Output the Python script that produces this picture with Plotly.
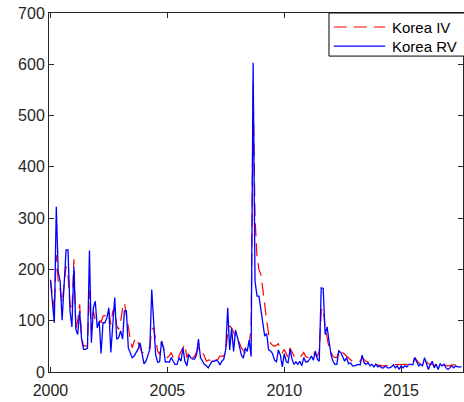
import pandas as pd
import plotly.graph_objects as go

# Monthly Korea volatility series, Jan 2000 - Aug 2017
korea_rv = [
    179, 135, 96, 322, 195, 176, 101, 170, 238, 238, 120, 88,
    205, 83, 73, 119, 64, 44, 44, 46, 237, 57, 125, 138,
    86, 99, 36, 96, 96, 106, 125, 38, 99, 145, 64, 67,
    80, 64, 119, 119, 47, 38, 28, 31, 38, 45, 57, 38,
    16, 21, 31, 44, 161, 83, 34, 19, 20, 60, 47, 19,
    20, 19, 28, 21, 15, 15, 28, 21, 47, 21, 12, 34,
    28, 25, 25, 34, 64, 28, 21, 15, 12, 8, 15, 21,
    21, 23, 21, 14, 21, 25, 44, 125, 43, 85, 40, 82,
    67, 49, 33, 27, 47, 40, 62, 30, 603, 177, 148, 148,
    120, 89, 70, 75, 43, 41, 36, 23, 20, 43, 33, 10,
    36, 20, 18, 44, 25, 15, 20, 15, 21, 12, 28, 20,
    20, 25, 31, 23, 41, 25, 21, 164, 163, 73, 88, 60,
    34, 21, 15, 15, 41, 38, 28, 21, 28, 16, 18, 12,
    12, 14, 15, 14, 33, 18, 15, 18, 12, 15, 10, 15,
    10, 12, 8, 8, 12, 8, 8, 10, 14, 8, 12, 5,
    12, 8, 12, 10, 15, 15, 14, 28, 21, 12, 15, 12,
    28, 18, 5, 15, 21, 8, 15, 5, 16, 12, 15, 8,
    5, 8, 12, 8, 12, 10, 10, 10,
]

korea_iv = [
    180, 150, 120, 228, 177, 160, 135, 170, 206, 190, 130, 119,
    220, 83, 100, 132, 67, 51, 51, 51, 158, 80, 119, 100,
    100, 103, 96, 109, 110, 112, 119, 93, 119, 125, 90, 83,
    98, 125, 135, 112, 83, 64, 47, 60, 67, 55, 47, 38,
    38, 42, 47, 47, 83, 86, 60, 41, 34, 60, 47, 34,
    28, 32, 38, 28, 23, 27, 31, 40, 47, 54, 28, 38,
    31, 28, 30, 38, 47, 47, 40, 31, 21, 23, 23, 28,
    25, 23, 25, 31, 31, 31, 41, 73, 90, 86, 77, 70,
    67, 55, 47, 42, 38, 45, 54, 86, 560, 300, 225, 200,
    190, 160, 127, 100, 75, 56, 52, 50, 52, 55, 45, 38,
    44, 35, 28, 47, 38, 31, 28, 28, 28, 33, 38, 30,
    28, 31, 35, 38, 33, 31, 40, 120, 125, 86, 67, 47,
    38, 31, 28, 28, 41, 42, 38, 34, 30, 28, 24, 21,
    21, 21, 21, 21, 28, 25, 21, 20, 18, 16, 15, 15,
    14, 12, 12, 12, 12, 13, 13, 14, 14, 14, 15, 14,
    14, 15, 14, 14, 15, 16, 16, 28, 23, 18, 16, 18,
    23, 20, 16, 15, 15, 12, 16, 16, 15, 14, 13, 12,
    12, 12, 14, 14, 15, 15, 15, 16,
]

series_names = ["Korea IV", "Korea RV"]
series_colors = ["rgb(255,0,0)", "rgb(0,0,255)"]
series_dashes = ["13px,7px", "solid"]
series_widths = [1.2, 1.3]

months = pd.date_range("2000-01-01", periods=len(korea_rv), freq="MS")

year_ticks = ["2000-01-01", "2005-01-01", "2010-01-01", "2015-01-01"]
year_labels = ["2000", "2005", "2010", "2015"]

axis_color = "#262626"
font_family = "Liberation Sans, Arial, Helvetica, sans-serif"

fig = go.Figure()
for name, values, color, dash, width in zip(
    series_names, [korea_iv, korea_rv], series_colors, series_dashes, series_widths
):
    fig.add_trace(go.Scatter(
        x=months, y=values, mode="lines", name=name,
        line=dict(color=color, width=width, dash=dash),
        showlegend=False,
    ))

axis_common = dict(
    showline=True, linecolor=axis_color, linewidth=1,
    mirror="ticks", ticks="inside", ticklen=5, tickcolor=axis_color,
    showgrid=False, zeroline=False,
    tickfont=dict(family=font_family, size=16, color=axis_color),
)

# Boxed key in the top-right corner (paper coordinates of the plot area)
key_shapes = [
    dict(type="rect", xref="paper", yref="paper",
         x0=0.6763, x1=1.01, y0=0.880, y1=1.0,
         line=dict(color="black", width=1), fillcolor="white", layer="above"),
]
key_notes = []
for row_y, name, color, dash, width in zip(
    [0.961, 0.908], series_names, series_colors, series_dashes, series_widths
):
    key_shapes.append(dict(
        type="line", xref="paper", yref="paper",
        x0=0.688, x1=0.812, y0=row_y, y1=row_y,
        line=dict(color=color, width=width, dash=dash), layer="above",
    ))
    key_notes.append(dict(
        xref="paper", yref="paper", x=0.8237, y=row_y,
        xanchor="left", yanchor="middle", showarrow=False,
        text=name, font=dict(family=font_family, size=15, color="black"),
    ))

fig.update_layout(
    width=464, height=402,
    margin=dict(l=49, r=1, t=13, b=30),
    paper_bgcolor="white", plot_bgcolor="white",
    font=dict(family=font_family, color=axis_color),
    xaxis=dict(
        type="date", range=["1999-12-09", "2017-08-24"],
        tickvals=year_ticks, ticktext=year_labels,
        ticklabelstandoff=4,
        **axis_common,
    ),
    yaxis=dict(
        range=[0, 700], tickvals=[0, 100, 200, 300, 400, 500, 600, 700],
        **axis_common,
    ),
    shapes=key_shapes,
    annotations=key_notes,
    showlegend=False,
)

fig.write_html("out.html")
